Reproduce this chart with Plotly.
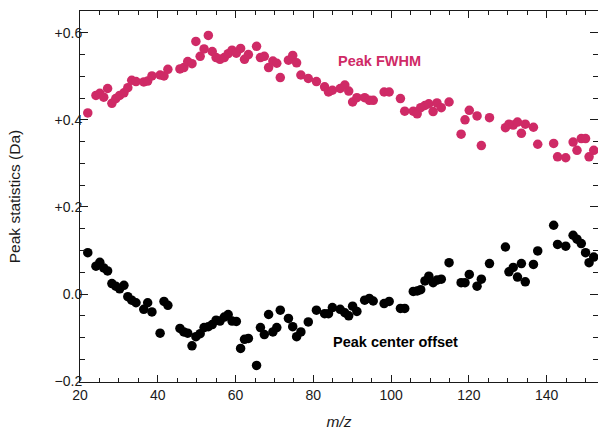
import plotly.graph_objects as go

# m/z positions shared by both peak statistics
mz = [22.0, 24.1, 25.1, 26.1, 27.1, 28.2, 29.2, 30.2, 31.3, 32.3, 33.3, 34.4,
      36.4, 37.4, 38.5, 40.6, 41.6, 42.6, 45.7, 46.7, 47.7, 48.8, 49.8, 50.9,
      51.9, 53.0, 54.0, 55.0, 56.0, 57.1, 58.1, 59.1, 60.2, 61.3, 62.3, 63.3,
      65.4, 66.4, 67.4, 68.5, 69.6, 70.6, 71.5, 73.6, 74.7, 75.7, 76.8, 78.7,
      80.8, 82.9, 83.9, 84.9, 86.9, 88.1, 89.1, 90.1, 91.2, 93.2, 94.4, 95.4,
      98.2, 99.5, 102.4, 103.5, 105.7, 106.7, 107.6, 108.7, 109.7, 110.8, 111.8,
      112.9, 114.9, 118.0, 119.0, 120.1, 122.1, 123.2, 125.3, 129.4, 130.3,
      131.4, 132.5, 133.5, 134.5, 136.6, 137.7, 141.8, 142.8, 144.9, 146.8,
      147.8, 148.9, 150.0, 150.9, 152.1]

fwhm = [0.416, 0.456, 0.461, 0.452, 0.472, 0.438, 0.449, 0.456, 0.462, 0.474,
        0.491, 0.488, 0.487, 0.489, 0.501, 0.503, 0.501, 0.516, 0.517, 0.520,
        0.534, 0.529, 0.580, 0.546, 0.563, 0.594, 0.557, 0.543, 0.539, 0.543,
        0.552, 0.560, 0.553, 0.564, 0.539, 0.550, 0.569, 0.543, 0.546, 0.520,
        0.535, 0.530, 0.497, 0.537, 0.548, 0.531, 0.503, 0.495, 0.488, 0.476,
        0.464, 0.468, 0.472, 0.480, 0.466, 0.441, 0.451, 0.451, 0.445, 0.445,
        0.464, 0.464, 0.449, 0.420, 0.420, 0.414, 0.428, 0.433, 0.437, 0.419,
        0.439, 0.428, 0.441, 0.367, 0.400, 0.422, 0.409, 0.341, 0.405, 0.382,
        0.390, 0.388, 0.395, 0.369, 0.390, 0.383, 0.344, 0.346, 0.315, 0.313,
        0.349, 0.330, 0.357, 0.357, 0.315, 0.330]

center_offset = [0.095, 0.064, 0.073, 0.060, 0.053, 0.024, 0.018, 0.012, 0.020,
                 -0.006, -0.014, -0.020, -0.035, -0.020, -0.041, -0.090, -0.017,
                 -0.026, -0.079, -0.087, -0.090, -0.119, -0.098, -0.091, -0.077,
                 -0.075, -0.070, -0.060, -0.062, -0.053, -0.047, -0.062, -0.063,
                 -0.125, -0.104, -0.102, -0.164, -0.077, -0.093, -0.047, -0.087,
                 -0.077, -0.037, -0.056, -0.075, -0.098, -0.087, -0.064, -0.037,
                 -0.045, -0.045, -0.031, -0.035, -0.043, -0.050, -0.028, -0.040,
                 -0.014, -0.010, -0.016, -0.022, -0.017, -0.033, -0.033, 0.006,
                 0.007, 0.010, 0.030, 0.041, 0.026, 0.032, 0.034, 0.072, 0.026,
                 0.026, 0.045, 0.018, 0.034, 0.070, 0.108, 0.051, 0.061, 0.039,
                 0.070, 0.028, 0.068, 0.099, 0.158, 0.114, 0.110, 0.135, 0.126,
                 0.116, 0.095, 0.072, 0.085]

y_tick_vals = [-0.2, 0.0, 0.2, 0.4, 0.6]
y_tick_text = ["\u22120.2", "0.0", "+0.2", "+0.4", "+0.6"]
x_tick_vals = [20, 40, 60, 80, 100, 120, 140]

FWHM_COLOR = "#cf2a66"
INK = "#1a1a1a"
FONT = "Liberation Sans, Arial, sans-serif"

fig = go.Figure()
fig.add_trace(go.Scatter(x=mz, y=fwhm, mode="markers", name="Peak FWHM",
                         marker=dict(size=9.5, color=FWHM_COLOR)))
fig.add_trace(go.Scatter(x=mz, y=center_offset, mode="markers",
                         name="Peak center offset",
                         marker=dict(size=9.5, color="#000000")))

fig.add_annotation(x=97.0, y=0.535, text="<b>Peak FWHM</b>", showarrow=False,
                   font=dict(family=FONT, size=14.5, color=FWHM_COLOR))
fig.add_annotation(x=101.0, y=-0.111, text="<b>Peak center offset</b>",
                   showarrow=False,
                   font=dict(family=FONT, size=14.5, color="#000000"))

axis_common = dict(showgrid=False, zeroline=False, showline=True,
                   linecolor=INK, linewidth=1, mirror="ticks",
                   ticks="inside", tickcolor=INK, tickwidth=1,
                   tickfont=dict(family=FONT, size=14, color=INK))

fig.update_xaxes(range=[20, 153.2], tickmode="array", tickvals=x_tick_vals,
                 ticklen=7,
                 minor=dict(tickmode="linear", tick0=0, dtick=5, ticklen=4,
                            ticks="inside", tickcolor=INK),
                 title=dict(text="<i>m/z</i>", standoff=14,
                            font=dict(family=FONT, size=15.5, color=INK)),
                 **axis_common)
fig.update_yaxes(range=[-0.202, 0.650], tickmode="array",
                 tickvals=y_tick_vals, ticktext=y_tick_text, ticklen=8,
                 ticklabelstandoff=-6,
                 minor=dict(tickmode="linear", tick0=0, dtick=0.05, ticklen=5,
                            ticks="inside", tickcolor=INK),
                 title=dict(text="Peak statistics (Da)", standoff=30,
                            font=dict(family=FONT, size=15.5, color=INK)),
                 **axis_common)

fig.update_layout(width=598, height=433, showlegend=False,
                  plot_bgcolor="white", paper_bgcolor="white",
                  margin=dict(l=80, r=0, t=11, b=51),
                  font=dict(family=FONT, color=INK))

fig.write_html("out.html")
